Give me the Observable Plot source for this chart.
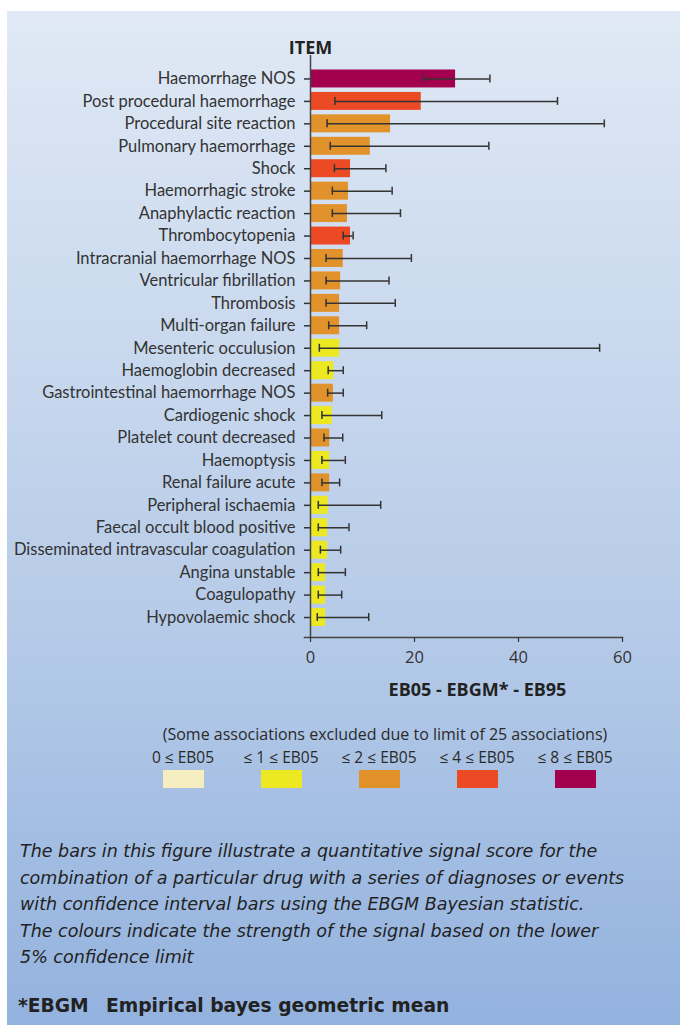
<!DOCTYPE html>
<html>
<head>
<meta charset="utf-8">
<script src="https://cdn.jsdelivr.net/npm/d3@7"></script>
<script src="https://cdn.jsdelivr.net/npm/@observablehq/plot@0.6"></script>
<style>
  html, body { margin: 0; padding: 0; background: #ffffff; }
  body { width: 680px; height: 1025px; position: relative; overflow: hidden; font-family: "Open Sans", sans-serif; }
  #panel { position: absolute; left: 7px; top: 11px; width: 673px; height: 1014px;
           background: linear-gradient(to bottom, #e0e9f5 0%, #b6cbe8 60%, #93b2de 100%); }
  #chart { position: absolute; left: 0; top: 0; }
  #legend-title { position: absolute; left: 0; width: 770px; top: 723px; text-align: center;
                  font-size: 16px; color: #2a2a2a; line-height: 22px; }
  #legend { position: absolute; left: 134px; top: 747px; display: flex; }
  .item { width: 98px; display: flex; flex-direction: column; align-items: center; }
  .item .lab { font-size: 15.5px; color: #2a2a2a; line-height: 20px; white-space: nowrap; }
  .item .sw { width: 41px; height: 18px; margin-top: 3px; }
  #caption { position: absolute; left: 20px; top: 838px; font-family: "DejaVu Sans", sans-serif;
             font-size: 17.5px; font-style: italic; line-height: 26.5px; color: #222; white-space: nowrap; }
  #footer { position: absolute; left: 0; top: 994px; width: 680px; height: 26px; font-family: "DejaVu Sans", sans-serif;
            font-size: 18.7px; font-weight: bold; color: #222; line-height: 24px; white-space: nowrap; }
  #footer span { position: absolute; top: 0; }
</style>
</head>
<body>
<div id="panel"></div>
<div id="chart"></div>
<div id="legend-title"></div>
<div id="legend"></div>
<div id="caption"></div>
<div id="footer"><span id="f1" style="left:18px"></span><span id="f2" style="left:106px"></span></div>
<script>
const items = [
  "Haemorrhage NOS", "Post procedural haemorrhage", "Procedural site reaction",
  "Pulmonary haemorrhage", "Shock", "Haemorrhagic stroke", "Anaphylactic reaction",
  "Thrombocytopenia", "Intracranial haemorrhage NOS", "Ventricular fibrillation",
  "Thrombosis", "Multi-organ failure", "Mesenteric occulusion", "Haemoglobin decreased",
  "Gastrointestinal haemorrhage NOS", "Cardiogenic shock", "Platelet count decreased",
  "Haemoptysis", "Renal failure acute", "Peripheral ischaemia",
  "Faecal occult blood positive", "Disseminated intravascular coagulation",
  "Angina unstable", "Coagulopathy", "Hypovolaemic shock"
];
const ebgm = [27.9, 21.3, 15.4, 11.5, 7.7, 7.3, 7.1, 7.7, 6.3, 5.8, 5.6, 5.6, 5.6, 4.5, 4.4, 4.2, 3.7, 3.7, 3.7, 3.4, 3.3, 3.3, 2.9, 2.9, 2.9];
const eb05 = [21.8, 4.7, 3.2, 3.8, 4.6, 4.2, 4.2, 6.3, 3.0, 3.0, 3.0, 3.5, 1.7, 3.4, 3.3, 2.2, 2.6, 2.2, 2.2, 1.5, 1.5, 1.9, 1.5, 1.5, 1.3];
const eb95 = [34.5, 47.5, 56.5, 34.3, 14.5, 15.7, 17.3, 8.2, 19.4, 15.1, 16.3, 10.8, 55.6, 6.3, 6.3, 13.7, 6.2, 6.7, 5.6, 13.5, 7.4, 5.8, 6.7, 6.0, 11.2];
const signal = ["≤ 8 ≤ EB05", "≤ 4 ≤ EB05", "≤ 2 ≤ EB05", "≤ 2 ≤ EB05", "≤ 4 ≤ EB05", "≤ 2 ≤ EB05",
  "≤ 2 ≤ EB05", "≤ 4 ≤ EB05", "≤ 2 ≤ EB05", "≤ 2 ≤ EB05", "≤ 2 ≤ EB05", "≤ 2 ≤ EB05",
  "≤ 1 ≤ EB05", "≤ 1 ≤ EB05", "≤ 2 ≤ EB05", "≤ 1 ≤ EB05", "≤ 2 ≤ EB05", "≤ 1 ≤ EB05",
  "≤ 2 ≤ EB05", "≤ 1 ≤ EB05", "≤ 1 ≤ EB05", "≤ 1 ≤ EB05", "≤ 1 ≤ EB05", "≤ 1 ≤ EB05", "≤ 1 ≤ EB05"];
const legendLabels = ["0 ≤ EB05", "≤ 1 ≤ EB05", "≤ 2 ≤ EB05", "≤ 4 ≤ EB05", "≤ 8 ≤ EB05"];
const palette = ["#f6edc0", "#ece923", "#e2922a", "#ec4a24", "#a3004f"];
const xTicks = [0, 20, 40, 60];
const xLabel = "EB05 - EBGM* - EB95";
const yTitle = "ITEM";
const legendTitle = "(Some associations excluded due to limit of 25 associations)";
const captionLines = [
  "The bars in this figure illustrate a quantitative signal score for the",
  "combination of a particular drug with a series of diagnoses or events",
  "with confidence interval bars using the EBGM Bayesian statistic.",
  "The colours indicate the strength of the signal based on the lower",
  "5% confidence limit"
];
const footerAbbr = "*EBGM";
const footerText = "Empirical bayes geometric mean";

const data = items.map((item, i) => ({item, ebgm: ebgm[i], lo: eb05[i], hi: eb95[i], signal: signal[i]}));

const H = 700;
const chart = Plot.plot({
  width: 680,
  height: H,
  marginLeft: 310,
  marginRight: 58,
  marginTop: 55,
  marginBottom: H - 637,
  style: {background: "transparent", fontFamily: "Open Sans, sans-serif", color: "#333"},
  x: {domain: [0, 60], round: false},
  y: {domain: items, range: [65, 630.5], padding: 0.2, round: false},
  color: {domain: legendLabels, range: palette},
  marks: [
    Plot.barX(data, {y: "item", x: "ebgm", fill: "signal", insetLeft: 1}),
    Plot.ruleY(data, {y: "item", x1: "lo", x2: "hi", stroke: "#333", strokeWidth: 1.5}),
    Plot.tickX(data, {y: "item", x: "lo", stroke: "#333", strokeWidth: 1.5, insetTop: 5, insetBottom: 5}),
    Plot.tickX(data, {y: "item", x: "hi", stroke: "#333", strokeWidth: 1.5, insetTop: 5, insetBottom: 5}),
    Plot.ruleX([0], {stroke: "#444", strokeWidth: 1.5}),
    Plot.frame({anchor: "bottom", stroke: "#444", strokeWidth: 1.5, insetLeft: -6}),
    Plot.axisY({tickSize: 6, tickPadding: 9, fontSize: 16.5, fontFamily: "Lato, sans-serif", label: null, strokeWidth: 1.5}),
    Plot.axisX({ticks: xTicks, tickSize: 5, tickPadding: 9, fontSize: 16.5, label: null, strokeWidth: 1.2}),
    Plot.text([yTitle], {frameAnchor: "top-left", lineAnchor: "bottom", textAnchor: "middle", dy: -2, fontSize: 18, fontWeight: "bold", fill: "#222"}),
    Plot.text([xLabel], {frameAnchor: "bottom", lineAnchor: "bottom", dx: 11, dy: 58, fontSize: 18, fontWeight: "bold", fill: "#222"})
  ]
});
document.getElementById("chart").appendChild(chart);

document.getElementById("legend-title").textContent = legendTitle;
const leg = document.getElementById("legend");
legendLabels.forEach((lab, i) => {
  const d = document.createElement("div");
  d.className = "item";
  const t = document.createElement("div");
  t.className = "lab";
  t.textContent = lab;
  const s = document.createElement("div");
  s.className = "sw";
  s.style.background = palette[i];
  d.appendChild(t);
  d.appendChild(s);
  leg.appendChild(d);
});
const cap = document.getElementById("caption");
captionLines.forEach((l, i) => {
  if (i) cap.appendChild(document.createElement("br"));
  cap.appendChild(document.createTextNode(l));
});
document.getElementById("f1").textContent = footerAbbr;
document.getElementById("f2").textContent = footerText;
</script>
</body>
</html>
